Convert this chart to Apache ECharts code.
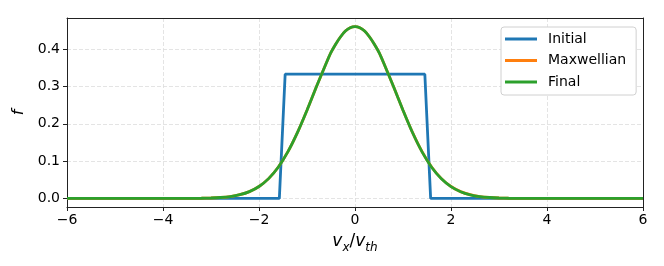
<!DOCTYPE html>
<html><head><meta charset="utf-8">
<script src="https://cdn.jsdelivr.net/npm/echarts@6/dist/echarts.min.js"></script>
<style>html,body{margin:0;padding:0;background:#fff}#c{width:664px;height:266px}</style>
</head><body><div id="c"></div>
<script>
// Data
const seriesNames = ['Initial', 'Maxwellian', 'Final'];
const initialX = [-6, -1.576, -1.455, 1.455, 1.576, 6];
const initialY = [0, 0, 0.333, 0.333, 0, 0];
const curveX = [-6, -3.6, -3.4, -3.2, -3.0, -2.8, -2.6, -2.4, -2.2, -2.0, -1.8, -1.6, -1.4, -1.2, -1.0, -0.8, -0.6, -0.5, -0.4, -0.3, -0.2, -0.1, 0,
  0.1, 0.2, 0.3, 0.4, 0.5, 0.6, 0.8, 1.0, 1.2, 1.4, 1.6, 1.8, 2.0, 2.2, 2.4, 2.6, 2.8, 3.0, 3.2, 3.4, 3.6, 6];
const maxwellY = [0, 0.0001, 0.0002, 0.0005, 0.0011, 0.0025, 0.0051, 0.0099, 0.0183, 0.0320, 0.0531, 0.0836, 0.1247, 0.1764, 0.2365, 0.3007, 0.3624, 0.3915, 0.4141, 0.4335, 0.4486, 0.4577, 0.4607,
  0.4577, 0.4486, 0.4335, 0.4141, 0.3915, 0.3624, 0.3007, 0.2365, 0.1764, 0.1247, 0.0836, 0.0531, 0.0320, 0.0183, 0.0099, 0.0051, 0.0025, 0.0011, 0.0005, 0.0002, 0.0001, 0];
const finalY = [0, 0.0001, 0.0002, 0.0005, 0.0011, 0.0025, 0.0051, 0.0099, 0.0183, 0.0320, 0.0531, 0.0836, 0.1247, 0.1764, 0.2365, 0.3007, 0.3624, 0.3915, 0.4141, 0.4335, 0.4486, 0.4577, 0.4605,
  0.4577, 0.4486, 0.4335, 0.4141, 0.3915, 0.3624, 0.3007, 0.2365, 0.1760, 0.1242, 0.0830, 0.0526, 0.0316, 0.0180, 0.0097, 0.0050, 0.0025, 0.0011, 0.0005, 0.0002, 0.0001, 0];
const xTicks = [-6, -4, -2, 0, 2, 4, 6];
const yTicks = [0.0, 0.1, 0.2, 0.3, 0.4];
const yMin = -0.023, yMax = 0.4837;

const zip = (xs, ys) => xs.map((x, i) => [x, ys[i]]);
const colors = ['#1f77b4', '#ff7f0e', '#2ca02c'];
const font = 'DejaVu Sans';
const gridLine = {show: true, lineStyle: {color: '#dddddd', type: [4, 2], width: 0.8}};
const frame = {color: '#222', width: 1};

const chart = echarts.init(document.getElementById('c'));
chart.setOption({
  animation: false,
  textStyle: {fontFamily: font},
  grid: {left: 67, right: 21, top: 18, bottom: 59},
  legend: {
    orient: 'vertical', left: 501, top: 27,
    backgroundColor: '#fff', borderColor: '#d0d0d0', borderWidth: 1, borderRadius: 3,
    padding: [5, 10, 6, 4], itemGap: 7.5, itemWidth: 32, itemHeight: 14,
    textStyle: {fontFamily: font, fontSize: 14, color: '#000', padding: [0, 0, 0, 6]},
    data: seriesNames.map(n => ({name: n, icon: 'path://M0,5.5L32,5.5L32,8.5L0,8.5Z'}))
  },
  xAxis: [{
    type: 'value', min: -6, max: 6, interval: 2,
    axisLine: {onZero: false, lineStyle: frame},
    axisTick: {show: true, length: 4, lineStyle: frame},
    axisLabel: {color: '#000', fontSize: 14, margin: 6, fontFamily: font,
      customValues: xTicks, formatter: v => (v < 0 ? '\u2212' + Math.abs(v) : String(v))},
    splitLine: gridLine,
    name: '{i|v}{s|x}{n|/}{i|v}{s|th}', nameLocation: 'middle', nameGap: 26,
    nameTextStyle: {rich: {
      i: {fontStyle: 'italic', fontSize: 17, fontFamily: font, color: '#000', verticalAlign: 'bottom'},
      n: {fontSize: 17, fontFamily: font, color: '#000', verticalAlign: 'bottom'},
      s: {fontStyle: 'italic', fontSize: 12, fontFamily: font, color: '#000', verticalAlign: 'bottom', padding: [0, 0, -4, 0]}
    }}
  }, {
    type: 'value', position: 'top', min: -6, max: 6, interval: 2,
    axisLine: {show: true, onZero: false, lineStyle: frame},
    axisTick: {show: false}, axisLabel: {show: false}, splitLine: {show: false}
  }],
  yAxis: [{
    type: 'value', min: yMin, max: yMax,
    axisLine: {show: true, onZero: false, lineStyle: frame},
    axisTick: {show: true, length: 4, customValues: yTicks, lineStyle: frame},
    axisLabel: {color: '#000', fontSize: 14, margin: 7, fontFamily: font, customValues: yTicks, formatter: v => v.toFixed(1)},
    splitLine: gridLine,
    name: 'f', nameLocation: 'middle', nameGap: 30, nameRotate: 90,
    nameTextStyle: {fontStyle: 'italic', fontSize: 16, color: '#000', fontFamily: font}
  }, {
    type: 'value', position: 'right', min: yMin, max: yMax,
    axisLine: {show: true, onZero: false, lineStyle: frame},
    axisTick: {show: false}, axisLabel: {show: false}, splitLine: {show: false}
  }],
  series: [
    {name: 'Initial', type: 'line', data: zip(initialX, initialY), symbol: 'none', lineStyle: {width: 2.8, color: colors[0]}, itemStyle: {color: colors[0]}},
    {name: 'Maxwellian', type: 'line', data: zip(curveX, maxwellY), symbol: 'none', smooth: 0.2, lineStyle: {width: 2.8, color: colors[1]}, itemStyle: {color: colors[1]}},
    {name: 'Final', type: 'line', data: zip(curveX, finalY), symbol: 'none', smooth: 0.2, lineStyle: {width: 2.8, color: colors[2]}, itemStyle: {color: colors[2]}}
  ]
});
</script></body></html>
